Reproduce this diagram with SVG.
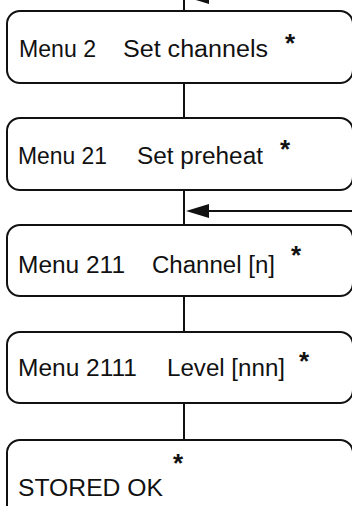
<svg xmlns="http://www.w3.org/2000/svg" width="352" height="506" viewBox="0 0 352 506">
<style>
.box{fill:#fff;stroke:#111;stroke-width:2}
.t{font-family:"Liberation Sans",Arial,sans-serif;font-size:23px;fill:#111}
.s{font-family:"Liberation Sans",Arial,sans-serif;font-size:26px;font-weight:bold;fill:#111;text-anchor:middle}
.c{stroke:#111;stroke-width:2;fill:none}
</style>
<rect width="352" height="506" fill="#fff"/>
<g id="connectors">
<line class="c" x1="184" y1="0" x2="184" y2="11"/>
<line class="c" x1="184" y1="83" x2="184" y2="118"/>
<line class="c" x1="184" y1="190" x2="184" y2="225"/>
<line class="c" x1="184" y1="296" x2="184" y2="332"/>
<line class="c" x1="184" y1="403" x2="184" y2="440"/>
<line class="c" x1="352" y1="-3" x2="209" y2="-3"/>
<polygon points="186,-3 209,-10 209,4" fill="#111"/>
<line class="c" x1="352" y1="211" x2="209" y2="211"/>
<polygon points="186,211 209,204 209,218" fill="#111"/>
</g>
<g id="menu2">
<rect class="box" x="7" y="11" width="346" height="72" rx="13"/>
<text class="t" x="19" y="57" textLength="77" lengthAdjust="spacingAndGlyphs">Menu 2</text>
<text class="t" x="123" y="57" textLength="145" lengthAdjust="spacingAndGlyphs">Set channels</text>
<text class="s" x="290" y="52">*</text>
</g>
<g id="menu21">
<rect class="box" x="7" y="118" width="346" height="72" rx="13"/>
<text class="t" x="18" y="164" textLength="89" lengthAdjust="spacingAndGlyphs">Menu 21</text>
<text class="t" x="137" y="164" textLength="126" lengthAdjust="spacingAndGlyphs">Set preheat</text>
<text class="s" x="285" y="158">*</text>
</g>
<g id="menu211">
<rect class="box" x="7" y="225" width="346" height="71" rx="13"/>
<text class="t" x="18" y="273" textLength="107" lengthAdjust="spacingAndGlyphs">Menu 211</text>
<text class="t" x="152" y="273" textLength="123" lengthAdjust="spacingAndGlyphs">Channel [n]</text>
<text class="s" x="296" y="264">*</text>
</g>
<g id="menu2111">
<rect class="box" x="7" y="332" width="346" height="71" rx="13"/>
<text class="t" x="18" y="376" textLength="119" lengthAdjust="spacingAndGlyphs">Menu 2111</text>
<text class="t" x="167" y="376" textLength="118" lengthAdjust="spacingAndGlyphs">Level [nnn]</text>
<text class="s" x="304" y="370">*</text>
</g>
<g id="stored">
<rect class="box" x="7" y="440" width="346" height="90" rx="13"/>
<text class="t" x="18" y="496" textLength="145" lengthAdjust="spacingAndGlyphs">STORED OK</text>
<text class="s" x="178" y="472">*</text>
</g>
</svg>
